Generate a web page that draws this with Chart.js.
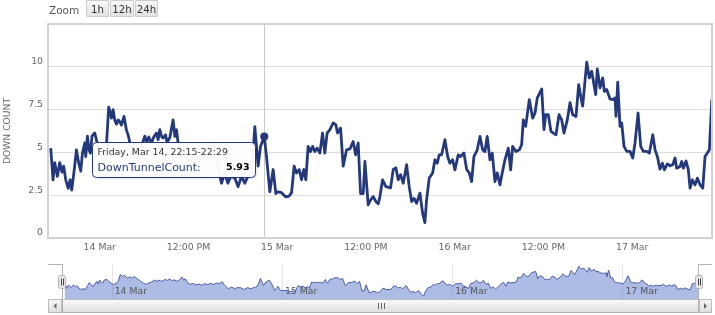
<!DOCTYPE html>
<html>
<head>
<meta charset="utf-8">
<script src="https://cdn.jsdelivr.net/npm/chart.js@4.4.1/dist/chart.umd.min.js"></script>
<style>
	html, body { margin: 0; padding: 0; background: #fff; }
	body { width: 715px; height: 315px; position: relative; overflow: hidden; font-family: "DejaVu Sans", Verdana, sans-serif; }
	#main { position: absolute; left: 0; top: 0; }
	#nav { position: absolute; left: 0; top: 255px; }
	.zoom-label { position: absolute; left: 49px; top: 2px; font-size: 10.5px; line-height: 17px; color: #555; }
	.zoom-btn { position: absolute; top: 0; height: 17px; line-height: 17px; font-size: 10.2px; color: #333; text-align: center;
		background: linear-gradient(#f8f8f8, #e2e2e2); border: 1px solid #cccccc; box-sizing: border-box; border-radius: 1px; }
</style>
</head>
<body>
<canvas id="main" width="715" height="258"></canvas>
<canvas id="nav" width="715" height="60"></canvas>
<div class="zoom-label">Zoom</div>
<div class="zoom-btn" style="left:86px;width:23px">1h</div>
<div class="zoom-btn" style="left:110px;width:24px">12h</div>
<div class="zoom-btn" style="left:135px;width:23px">24h</div>
<script>
// hours counted from 13 Mar 00:00
const hours = [
	17.37, 17.68, 17.91, 18.27, 18.58, 18.89, 19.12, 19.40, 19.73, 20.00, 20.21, 20.61, 20.84, 21.15, 21.43, 21.66,
	21.97, 22.10, 22.33, 22.55, 22.74, 22.95, 23.32, 23.55, 23.86, 24.27, 24.60, 24.90, 25.21, 25.44, 25.58, 25.80,
	26.03, 26.26, 26.50, 26.70, 26.93, 27.28, 27.61, 27.85, 28.06, 28.46, 28.87, 29.27, 29.68, 30.09, 30.36, 30.63,
	30.99, 31.30, 31.67, 31.89, 32.12, 32.39, 32.56, 32.89, 33.10, 33.47, 33.92, 34.15, 34.38, 34.69, 35.09, 35.50,
	35.90, 36.31, 36.72, 37.12, 37.53, 37.93, 38.34, 38.75, 39.15, 39.56, 39.96, 40.46, 40.91, 41.32, 41.72, 42.26,
	42.71, 43.17, 43.62, 44.02, 44.29, 44.63, 44.97, 45.42, 45.74, 46.25, 46.55, 47.00, 47.45, 47.81, 48.12, 48.58,
	49.17, 49.61, 49.94, 50.29, 50.61, 50.97, 51.29, 51.60, 51.87, 52.18, 52.51, 52.78, 53.09, 53.40, 53.77, 54.13,
	54.44, 54.75, 55.12, 55.57, 55.93, 56.16, 56.57, 56.92, 57.38, 57.83, 58.27, 58.60, 58.95, 59.27, 59.63, 59.86,
	60.30, 60.63, 60.98, 61.34, 61.66, 61.89, 62.25, 62.70, 63.33, 63.69, 64.05, 64.36, 64.69, 65.04, 65.50, 65.85,
	66.18, 66.49, 66.85, 67.30, 67.66, 67.97, 68.20, 68.56, 69.02, 69.33, 69.64, 69.91, 70.23, 70.68, 71.05, 71.36,
	71.72, 72.03, 72.48, 72.80, 73.25, 73.62, 73.97, 74.29, 74.60, 75.05, 75.42, 75.78, 76.09, 76.40, 76.77, 77.08,
	77.45, 77.76, 78.12, 78.43, 78.80, 79.25, 79.57, 79.84, 80.29, 80.74, 81.06, 81.28, 81.60, 82.09, 82.55, 82.86,
	83.17, 83.77, 84.08, 84.31, 84.66, 85.02, 85.34, 85.70, 86.11, 86.47, 86.78, 87.23, 87.60, 87.96, 88.41, 88.77,
	89.04, 89.31, 89.86, 90.21, 90.53, 91.07, 91.29, 91.66, 92.02, 92.24, 92.56, 93.01, 93.37, 93.69, 93.82, 94.05,
	94.36, 94.59, 94.90, 95.27, 95.72, 96.08, 96.39, 96.80, 97.16, 97.51, 97.97, 98.33, 98.79, 99.10, 99.41, 99.77,
	100.09, 100.36, 100.76, 101.13, 101.49, 101.80, 102.03, 102.48, 102.71, 102.93, 103.29, 103.60, 103.83, 104.15, 104.51, 104.82,
	105.19, 105.55, 105.86, 106.17, 106.45, 106.77
];
const counts = [
	5.25, 3.4, 4.4, 3.6, 4.4, 3.85, 4.2, 3.4, 2.9, 3.4, 2.8, 4.2, 5.15, 4.4, 3.9, 4.96,
	5.55, 4.76, 5.95, 5.15, 4.96, 5.95, 6.13, 5.74, 5.0, 4.5, 4.9, 5.4, 7.65, 7.3, 7.0, 7.5,
	6.9, 6.65, 6.9, 6.8, 6.6, 7.1, 6.3, 6.0, 5.6, 5.0, 4.6, 5.1, 5.4, 5.95, 5.6, 5.9,
	5.55, 5.9, 6.13, 5.74, 6.33, 5.9, 5.84, 6.03, 5.6, 5.85, 6.9, 5.93, 6.33, 5.2, 4.6, 4.9,
	4.4, 4.7, 4.3, 4.8, 4.5, 4.9, 4.6, 5.0, 4.8, 5.5, 4.2, 3.2, 3.79, 3.2, 3.6, 3.5,
	3.0, 3.59, 3.2, 3.6, 3.69, 4.3, 6.5, 4.2, 5.35, 5.93, 4.76, 2.7, 4.0, 2.6, 2.7, 2.65,
	2.4, 2.45, 2.65, 4.2, 3.8, 4.0, 3.4, 4.0, 3.4, 5.35, 5.05, 5.35, 5.05, 5.25, 4.96, 6.13,
	4.96, 6.13, 6.33, 6.72, 6.62, 6.13, 6.42, 4.2, 5.15, 5.2, 5.64, 4.86, 5.55, 2.6, 2.6, 4.47,
	1.93, 2.22, 2.42, 2.13, 2.0, 2.42, 3.4, 3.0, 2.93, 4.0, 4.1, 3.4, 3.7, 3.2, 4.28, 3.0,
	2.13, 2.32, 2.03, 2.62, 1.45, 0.9, 2.22, 3.5, 3.8, 4.57, 4.37, 4.86, 4.86, 5.74, 4.76, 4.37,
	4.57, 3.98, 4.86, 4.76, 4.96, 4.0, 3.8, 3.3, 4.76, 5.15, 5.93, 5.15, 5.05, 5.93, 4.57, 4.96,
	3.3, 3.8, 3.1, 3.8, 4.57, 5.25, 3.98, 5.35, 5.05, 5.15, 5.45, 6.9, 6.52, 8.08, 7.0, 7.3,
	8.18, 8.7, 6.33, 7.2, 7.2, 6.23, 6.13, 6.03, 7.2, 6.9, 6.13, 6.9, 7.9, 7.2, 7.1, 8.96,
	8.28, 7.7, 10.27, 9.35, 9.74, 8.38, 9.88, 8.77, 9.35, 8.57, 8.67, 8.12, 8.08, 8.18, 7.1, 9.1,
	6.52, 6.72, 5.35, 5.06, 5.06, 4.67, 5.55, 7.3, 5.35, 5.06, 5.06, 4.96, 6.03, 5.15, 4.76, 4.02,
	4.37, 3.98, 4.33, 4.22, 4.28, 4.67, 4.08, 4.18, 4.47, 4.08, 4.5, 3.98, 2.91, 3.4, 3.1, 3.5,
	3.1, 2.91, 4.76, 4.96, 5.15, 8.08
];
const tickHours = [24, 36, 48, 60, 72, 84, 96];
const tickLabels = ["14 Mar", "12:00 PM", "15 Mar", "12:00 PM", "16 Mar", "12:00 PM", "17 Mar"];
const navTickHours = [24, 48, 72, 96];
const navTickLabels = ["14 Mar", "15 Mar", "16 Mar", "17 Mar"];
const yTicks = [0, 2.5, 5, 7.5, 10];
const hoverHour = 46.25;
const hoverTitle = "Friday, Mar 14, 22:15-22:29";
const seriesName = "DownTunnelCount";

const FONT = '"DejaVu Sans", Verdana, sans-serif';
const NAVY = "#24397b";
const points = hours.map((h, i) => ({x: h, y: counts[i]}));
const hoverIndex = hours.indexOf(hoverHour);

const mainDecor = {
	id: "mainDecor",
	beforeDatasetsDraw(chart) {
		const {ctx, chartArea: a} = chart;
		const pt = chart.getDatasetMeta(0).data[hoverIndex];
		ctx.save();
		ctx.strokeStyle = "#c8c8c8";
		ctx.lineWidth = 1;
		ctx.beginPath();
		ctx.moveTo(Math.round(pt.x) + 0.5, a.top);
		ctx.lineTo(Math.round(pt.x) + 0.5, a.bottom);
		ctx.stroke();
		ctx.restore();
	},
	afterDraw(chart) {
		const {ctx, chartArea: a} = chart;
		ctx.save();
		ctx.strokeStyle = "#d2d2d2";
		ctx.lineWidth = 2;
		ctx.strokeRect(a.left, a.top, a.right - a.left, a.bottom - a.top);

		const pt = chart.getDatasetMeta(0).data[hoverIndex];
		const w = 163, h = 35;
		const bx = Math.round(pt.x) - 9 - w + 0.5, by = Math.round(pt.y) + 6 + 0.5;
		ctx.shadowColor = "rgba(0,0,0,0.15)";
		ctx.shadowBlur = 3;
		ctx.shadowOffsetX = 1;
		ctx.shadowOffsetY = 1;
		ctx.beginPath();
		ctx.roundRect(bx, by, w, h, 4);
		ctx.fillStyle = "rgba(255,255,255,0.96)";
		ctx.fill();
		ctx.shadowColor = "transparent";
		ctx.strokeStyle = NAVY;
		ctx.lineWidth = 1;
		ctx.stroke();

		ctx.textBaseline = "middle";
		ctx.textAlign = "left";
		ctx.fillStyle = "#333";
		ctx.font = `9.4px ${FONT}`;
		ctx.fillText(hoverTitle, bx + 5, by + 10.5);
		ctx.fillStyle = NAVY;
		ctx.font = `11px ${FONT}`;
		ctx.fillText(seriesName + ":", bx + 5, by + 25.5);
		ctx.fillStyle = "#000";
		ctx.font = `bold 9.5px ${FONT}`;
		ctx.textAlign = "right";
		ctx.fillText(counts[hoverIndex].toFixed(2), bx + w - 6, by + 25.5);
		ctx.restore();
	}
};

const mainChart = new Chart(document.getElementById("main"), {
	type: "line",
	data: {
		datasets: [{
			label: seriesName,
			data: points,
			borderColor: NAVY,
			backgroundColor: NAVY,
			borderWidth: 2.8,
			borderJoinStyle: "round",
			tension: 0,
			pointRadius: points.map((p, i) => i === hoverIndex ? 4 : 0),
			pointBorderWidth: 0
		}]
	},
	options: {
		responsive: false,
		animation: false,
		layout: {padding: {top: 24, right: 3, left: 0, bottom: 0}},
		plugins: {legend: {display: false}, tooltip: {enabled: false}},
		scales: {
			x: {
				type: "linear",
				min: 17,
				max: 106.8,
				afterBuildTicks: (s) => { s.ticks = tickHours.map(v => ({value: v})); },
				afterFit: (s) => { s.height = 20; },
				grid: {display: false, drawTicks: false},
				border: {display: false},
				ticks: {
					padding: 4, color: "#666", autoSkip: false, maxRotation: 0,
					font: {family: FONT, size: 9.3},
					callback: (v, i) => tickLabels[i]
				}
			},
			y: {
				min: 0,
				max: 12.5,
				afterBuildTicks: (s) => { s.ticks = yTicks.map(v => ({value: v})); },
				afterFit: (s) => { s.width = 48; },
				grid: {color: "#dddddd", drawTicks: false},
				border: {display: false},
				ticks: {
					padding: 5, labelOffset: -5, color: "#666",
					font: {family: FONT, size: 9.3},
					callback: (v) => String(v)
				},
				title: {
					display: true, text: "DOWN COUNT", color: "#666",
					font: {family: FONT, size: 9.2},
					padding: {top: 2, bottom: 0}
				}
			}
		}
	},
	plugins: [mainDecor]
});

const gradRect = function(ctx, x, y, w, h, c1, c2, stroke) {
	const g = ctx.createLinearGradient(0, y, 0, y + h);
	g.addColorStop(0, c1);
	g.addColorStop(1, c2);
	ctx.fillStyle = g;
	ctx.fillRect(x, y, w, h);
	ctx.strokeStyle = stroke;
	ctx.lineWidth = 1;
	ctx.strokeRect(x + 0.5, y + 0.5, w - 1, h - 1);
}

const navDecor = {
	id: "navDecor",
	beforeDatasetsDraw(chart) {
		const {ctx, chartArea: a, scales: {x}} = chart;
		ctx.save();
		ctx.strokeStyle = "#e4e4e4";
		ctx.lineWidth = 1;
		for (let h of navTickHours) {
			const px = Math.round(x.getPixelForValue(h)) + 0.5;
			ctx.beginPath();
			ctx.moveTo(px, a.top);
			ctx.lineTo(px, a.bottom);
			ctx.stroke();
		}
		ctx.restore();
	},
	afterDraw(chart) {
		const {ctx, chartArea: a, scales: {x}} = chart;
		const plotLeft = 48, plotRight = 712;
		const sTop = a.bottom, sH = 14;
		ctx.save();
		// labels
		ctx.font = `9.3px ${FONT}`;
		ctx.fillStyle = "#555";
		ctx.textBaseline = "middle";
		navTickHours.forEach((h, i) => {
			ctx.fillText(navTickLabels[i], x.getPixelForValue(h) + 3, a.bottom - 7);
		});

		// scrollbar
		gradRect(ctx, plotLeft, sTop, plotRight - plotLeft, sH, "#f2f2f2", "#fafafa", "#cccccc");
		gradRect(ctx, a.left, sTop, a.right - a.left, sH, "#fbfbfb", "#dcdcdc", "#bbbbbb");
		gradRect(ctx, plotLeft, sTop, a.left - plotLeft, sH, "#f8f8f8", "#dddddd", "#bbbbbb");
		gradRect(ctx, a.right, sTop, plotRight - a.right, sH, "#f8f8f8", "#dddddd", "#bbbbbb");
		ctx.fillStyle = "#666";
		const cy = sTop + sH / 2;
		const lx = (plotLeft + a.left) / 2, rx = (a.right + plotRight) / 2;
		ctx.beginPath();
		ctx.moveTo(lx - 1.5, cy); ctx.lineTo(lx + 1.5, cy - 3); ctx.lineTo(lx + 1.5, cy + 3); ctx.closePath();
		ctx.fill();
		ctx.beginPath();
		ctx.moveTo(rx + 1.5, cy); ctx.lineTo(rx - 1.5, cy - 3); ctx.lineTo(rx - 1.5, cy + 3); ctx.closePath();
		ctx.fill();
		ctx.strokeStyle = "#666";
		const mid = Math.round((a.left + a.right) / 2);
		for (let d of [-3, 0, 3]) {
			ctx.beginPath();
			ctx.moveTo(mid + d + 0.5, cy - 3);
			ctx.lineTo(mid + d + 0.5, cy + 3);
			ctx.stroke();
		}

		// outline
		ctx.strokeStyle = "#b2b1b6";
		ctx.lineWidth = 1;
		ctx.beginPath();
		ctx.moveTo(plotLeft, a.top + 0.5);
		ctx.lineTo(a.left + 0.5, a.top + 0.5);
		ctx.lineTo(a.left + 0.5, sTop + sH - 0.5);
		ctx.lineTo(a.right - 0.5, sTop + sH - 0.5);
		ctx.lineTo(a.right - 0.5, a.top + 0.5);
		ctx.lineTo(plotRight, a.top + 0.5);
		ctx.stroke();

		// handles
		for (let hx of [a.left, a.right]) {
			const hy = a.top + 11;
			ctx.beginPath();
			ctx.roundRect(Math.round(hx) - 3.5, hy + 0.5, 7, 13, 2);
			ctx.fillStyle = "#ebe7e8";
			ctx.fill();
			ctx.strokeStyle = "#b2b1b6";
			ctx.stroke();
			ctx.strokeStyle = "#444";
			for (let d of [-1, 1]) {
				ctx.beginPath();
				ctx.moveTo(Math.round(hx) + d + 0.5, hy + 3.5);
				ctx.lineTo(Math.round(hx) + d + 0.5, hy + 10.5);
				ctx.stroke();
			}
		}
		ctx.restore();
	}
};

const navChart = new Chart(document.getElementById("nav"), {
	type: "line",
	data: {
		datasets: [{
			data: points,
			borderColor: "#4d5ca6",
			borderWidth: 1,
			backgroundColor: "rgba(92,122,204,0.5)",
			fill: "origin",
			pointRadius: 0,
			tension: 0
		}]
	},
	options: {
		responsive: false,
		animation: false,
		layout: {padding: {left: 62, right: 16, top: 9, bottom: 16}},
		plugins: {legend: {display: false}, tooltip: {enabled: false}},
		scales: {
			x: {type: "linear", min: 17, max: 106.8, display: false},
			y: {min: 0, max: 11, display: false}
		}
	},
	plugins: [navDecor]
});
</script>
</body>
</html>
